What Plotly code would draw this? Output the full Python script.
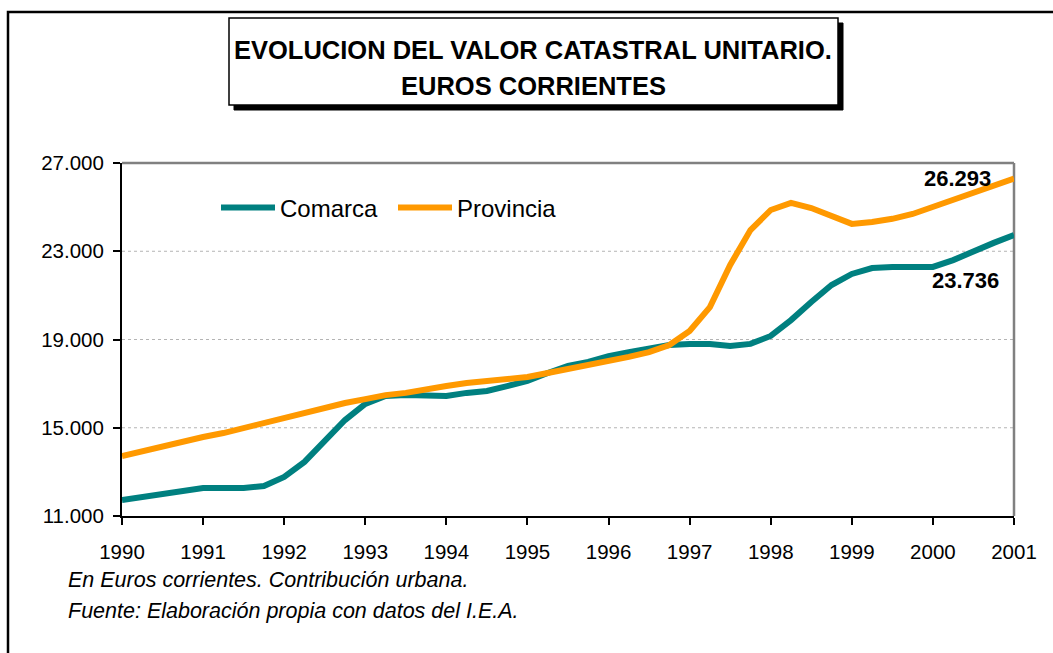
import plotly.graph_objects as go

# ---- data ----
periods = [1990.00, 1990.25, 1990.50, 1990.75, 1991.00, 1991.25, 1991.50, 1991.75,
           1992.00, 1992.25, 1992.50, 1992.75, 1993.00, 1993.25, 1993.50, 1993.75,
           1994.00, 1994.25, 1994.50, 1994.75, 1995.00, 1995.25, 1995.50, 1995.75,
           1996.00, 1996.25, 1996.50, 1996.75, 1997.00, 1997.25, 1997.50, 1997.75,
           1998.00, 1998.25, 1998.50, 1998.75, 1999.00, 1999.25, 1999.50, 1999.75,
           2000.00, 2000.25, 2000.50, 2000.75, 2001.00]

comarca = [11725, 11860, 12000, 12130, 12270, 12270, 12270, 12360,
           12770, 13450, 14450, 15350, 16080, 16440, 16480, 16440,
           16440, 16580, 16670, 16890, 17120, 17480, 17800, 17980,
           18250, 18430, 18620, 18750, 18800, 18800, 18710, 18800,
           19160, 19880, 20700, 21470, 21970, 22240, 22290, 22290,
           22290, 22600, 23010, 23380, 23736]

provincia = [13720, 13950, 14170, 14350, 14580, 14760, 14990, 15170,
             15400, 15670, 15900, 16120, 16300, 16480, 16580, 16760,
             16890, 17030, 17120, 17210, 17300, 17480, 17660, 17800,
             18030, 18210, 18430, 18750, 19390, 20470, 22380, 23960,
             24870, 25190, 24960, 24600, 24240, 24330, 24470, 24690,
             25010, 25320, 25640, 25960, 26293]

series_names = ["Comarca", "Provincia"]
series_colors = ["#008080", "#FF9900"]

year_ticks = list(range(1990, 2002))
year_labels = [str(y) for y in year_ticks]
y_ticks = [11000, 15000, 19000, 23000, 27000]
y_labels = ["11.000", "15.000", "19.000", "23.000", "27.000"]

title_lines = ["EVOLUCION DEL VALOR CATASTRAL UNITARIO.", "EUROS CORRIENTES"]
notes = ["En Euros corrientes. Contribución urbana.",
         "Fuente: Elaboración propia con datos del I.E.A."]
end_labels = ["23.736", "26.293"]

FONT = "Arial, Liberation Sans, sans-serif"

# ---- figure ----
W, H = 1053, 653
L, R, T, B = 122, 1014, 163, 516


def px(x):
    return (x - L) / (R - L)


def py(y):
    return (B - y) / (B - T)


fig = go.Figure()
for name, vals, col in zip(series_names, [comarca, provincia], series_colors):
    fig.add_trace(go.Scatter(x=periods, y=vals, name=name, mode="lines",
                             line=dict(color=col, width=6)))

shapes = []
# outer frame
shapes.append(dict(type="rect", xref="paper", yref="paper",
                   x0=px(8), x1=px(1070), y0=py(670), y1=py(12),
                   line=dict(color="black", width=2.5), fillcolor="rgba(0,0,0,0)", layer="below"))
# gridlines
for v in y_ticks[1:-1]:
    shapes.append(dict(type="line", xref="paper", yref="y", x0=0, x1=1, y0=v, y1=v,
                       line=dict(color="#B4B4B4", width=1, dash="dot"), layer="below"))
# top and right plot border
shapes.append(dict(type="line", xref="paper", yref="paper", x0=0, x1=1, y0=1, y1=1,
                   line=dict(color="#808080", width=2.5), layer="below"))
shapes.append(dict(type="line", xref="paper", yref="paper", x0=1, x1=1, y0=0, y1=1,
                   line=dict(color="#808080", width=2.5), layer="below"))
# title box shadow + box
shapes.append(dict(type="rect", xref="paper", yref="paper",
                   x0=px(234), x1=px(843), y0=py(110), y1=py(23),
                   line=dict(color="black", width=1), fillcolor="black"))
shapes.append(dict(type="rect", xref="paper", yref="paper",
                   x0=px(229), x1=px(838), y0=py(105), y1=py(18),
                   line=dict(color="black", width=1.5), fillcolor="white"))

annotations = []
for txt, yy in zip(title_lines, [50, 86]):
    annotations.append(dict(text="<b>%s</b>" % txt, xref="paper", yref="paper",
                            x=px(533), y=py(yy), xanchor="center", yanchor="middle",
                            showarrow=False, font=dict(family=FONT, size=25.5, color="black")))
for txt, yy in zip(notes, [580, 611]):
    annotations.append(dict(text="<i>%s</i>" % txt, xref="paper", yref="paper",
                            x=px(66), y=py(yy), xanchor="left", yanchor="middle",
                            showarrow=False, font=dict(family=FONT, size=21.5, color="black")))
annotations.append(dict(text="<b>%s</b>" % end_labels[0], xref="x", yref="y",
                        x=2000.4, y=comarca[-1], yshift=-45,
                        xanchor="center", yanchor="middle", showarrow=False,
                        font=dict(family=FONT, size=22, color="black")))
annotations.append(dict(text="<b>%s</b>" % end_labels[1], xref="x", yref="y",
                        x=2000.3, y=provincia[-1], yshift=0,
                        xanchor="center", yanchor="middle", showarrow=False,
                        font=dict(family=FONT, size=22, color="black")))

fig.update_layout(
    width=W, height=H, autosize=False,
    margin=dict(l=L, r=W - R, t=T, b=H - B, pad=0),
    paper_bgcolor="white", plot_bgcolor="white",
    font=dict(family=FONT, size=19, color="black"),
    shapes=shapes, annotations=annotations,
    showlegend=True,
    legend=dict(orientation="h", x=px(216), y=py(208), xanchor="left", yanchor="middle",
                font=dict(family=FONT, size=24, color="black"),
                bgcolor="rgba(0,0,0,0)", itemwidth=54, tracegroupgap=0,
                entrywidth=108, entrywidthmode="pixels"),
    xaxis=dict(range=[1990, 2001], tickvals=year_ticks, ticktext=year_labels,
               showgrid=False, zeroline=False, showline=True, linecolor="black", linewidth=2,
               ticks="outside", ticklen=7, tickwidth=2, tickcolor="black",
               ticklabelstandoff=9, tickfont=dict(size=20.5)),
    yaxis=dict(range=[11000, 27000], tickvals=y_ticks, ticktext=y_labels,
               showgrid=False, zeroline=False, showline=True, linecolor="black", linewidth=2,
               ticks="outside", ticklen=7, tickwidth=2, tickcolor="black",
               ticklabelstandoff=5, tickfont=dict(size=20.5)),
)

fig.write_html("out.html", config={"displayModeBar": False},
               post_script="document.body.style.margin='0px';")
